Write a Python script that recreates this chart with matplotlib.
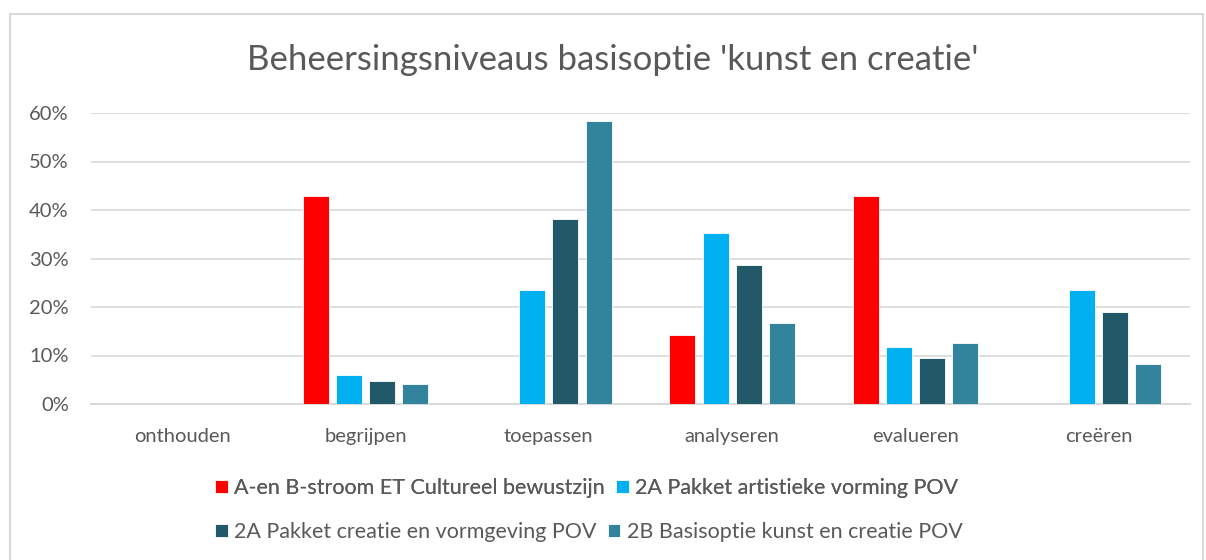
import numpy as np
import matplotlib.pyplot as plt
from matplotlib.patches import Rectangle
from matplotlib.ticker import PercentFormatter

categories = ["onthouden", "begrijpen", "toepassen", "analyseren", "evalueren", "creëren"]
series_names = [
    "A-en B-stroom ET Cultureel bewustzijn",
    "2A Pakket artistieke vorming POV",
    "2A Pakket creatie en vormgeving POV",
    "2B Basisoptie kunst en creatie POV",
]
a_en_b = [0.0, 42.86, 0.0, 14.29, 42.86, 0.0]
artistieke = [0.0, 5.88, 23.53, 35.29, 11.76, 23.53]
creatie = [0.0, 4.76, 38.10, 28.57, 9.52, 19.05]
basisoptie = [0.0, 4.17, 58.33, 16.67, 12.50, 8.33]
colors = ["#FF0000", "#00B0F0", "#215968", "#31849B"]

plt.rcParams["font.family"] = ["Lato", "DejaVu Sans"]
text_color = "#595959"
grid_color = "#D9D9D9"

fig = plt.figure(figsize=(12.06, 5.6), dpi=100)
fig.patches.append(Rectangle((10 / 1206, -0.1), 1193 / 1206, 1.1 - 14 / 560,
                             transform=fig.transFigure, fill=False,
                             edgecolor=grid_color, linewidth=1.5))

ax = fig.add_axes([91 / 1206, 1 - 404 / 560, 1099 / 1206, 291 / 560])

x = np.arange(len(categories))
width = 0.142
pitch = 0.181
all_series = [a_en_b, artistieke, creatie, basisoptie]
handles = []
for i, (vals, col) in enumerate(zip(all_series, colors)):
    b = ax.bar(x + (i - 1.5) * pitch, vals, width, color=col,
               edgecolor="white", linewidth=0.6, zorder=3)
    handles.append(b)

ax.set_xlim(-0.5, len(categories) - 0.5)
ax.set_ylim(0, 60)
ax.set_yticks(np.arange(0, 61, 10))
ax.yaxis.set_major_formatter(PercentFormatter(decimals=0))
ax.set_xticks(x)
ax.set_xticklabels(categories)
ax.grid(axis="y", color=grid_color, linewidth=1.2, zorder=0)
for s in ["top", "right", "left"]:
    ax.spines[s].set_visible(False)
ax.spines["bottom"].set_color(grid_color)
ax.spines["bottom"].set_linewidth(1.5)
ax.tick_params(axis="both", length=0, labelsize=14.5, colors=text_color)
ax.tick_params(axis="x", pad=17)
ax.tick_params(axis="y", pad=16)

fig.text(0.508, 1 - 60 / 560, "Beheersingsniveaus basisoptie 'kunst en creatie'",
         ha="center", va="center", fontsize=25, color=text_color)

leg_kw = dict(loc="center left", ncol=2, frameon=False, fontsize=15.5,
              handlelength=0.6, handleheight=0.6, handletextpad=0.3,
              columnspacing=0.5, labelcolor=text_color, borderpad=0,
              borderaxespad=0)
leg1 = fig.legend(handles[:2], series_names[:2],
                  bbox_to_anchor=(215 / 1206, 1 - 488 / 560), **leg_kw)
fig.add_artist(leg1)
fig.legend(handles[2:], series_names[2:],
           bbox_to_anchor=(215 / 1206, 1 - 532 / 560), **leg_kw)

fig.savefig("out.png", dpi=100)
